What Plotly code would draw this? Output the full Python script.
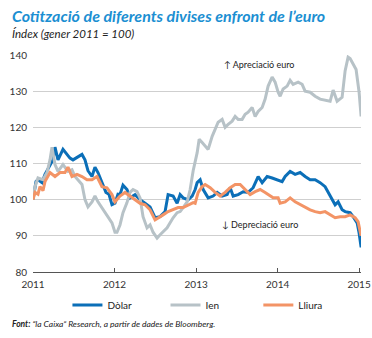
import pandas as pd
import plotly.graph_objects as go

# Time positions in decimal years, values = index (gener 2011 = 100)
dolar_t = [2011.0000, 2011.0368, 2011.0613, 2011.1104, 2011.1472, 2011.2086, 2011.2454, 2011.2699, 2011.3067,
           2011.3681, 2011.4172, 2011.4540, 2011.4908, 2011.5399, 2011.6012, 2011.6380, 2011.6748, 2011.7239,
           2011.7607, 2011.7975, 2011.8466, 2011.8957, 2011.9325, 2011.9693, 2012.0061, 2012.0429, 2012.0675,
           2012.1043, 2012.1534, 2012.1902, 2012.2515, 2012.3129, 2012.3742, 2012.4356, 2012.4969, 2012.5583,
           2012.6196, 2012.6564, 2012.7178, 2012.7669, 2012.8037, 2012.8405, 2012.9018, 2012.9509, 2012.9877,
           2013.0123, 2013.0491, 2013.0859, 2013.1472, 2013.2086, 2013.2577, 2013.3190, 2013.3804, 2013.4172,
           2013.4540, 2013.5153, 2013.5767, 2013.6380, 2013.6994, 2013.7607, 2013.8098, 2013.8712, 2013.9325,
           2013.9939, 2014.0552, 2014.0920, 2014.1534, 2014.2147, 2014.2761, 2014.3374, 2014.3988, 2014.4601,
           2014.5215, 2014.5828, 2014.6196, 2014.6687, 2014.7055, 2014.7423, 2014.7914, 2014.8282, 2014.8896,
           2014.9264, 2014.9755, 2015.0000, 2015.0245]
dolar_v = [100.0, 105.0, 105.5, 104.7, 107.0, 109.7, 111.0, 114.5, 111.0,
           113.9, 112.5, 111.5, 111.0, 111.7, 112.5, 111.0, 108.0, 106.4,
           109.0, 107.5, 104.7, 102.0, 101.5, 98.6, 99.0, 101.5, 101.4,
           104.0, 102.8, 100.5, 101.4, 100.0, 99.0, 98.0, 95.0, 95.3,
           96.7, 101.4, 101.0, 99.0, 101.4, 100.5, 100.0, 101.0, 102.8,
           104.7, 105.5, 102.8, 100.5, 101.0, 102.0, 101.0, 101.4, 103.3,
           101.0, 101.4, 102.2, 102.0, 103.3, 106.4, 104.7, 106.4, 106.0,
           105.5, 105.0, 106.4, 107.8, 107.0, 107.5, 106.4, 105.5, 105.5,
           104.7, 103.6, 102.2, 100.0, 98.6, 99.4, 97.2, 96.7, 96.4,
           95.3, 93.6, 90.8, 86.8]

ien_t = [2011.0000, 2011.0245, 2011.0613, 2011.1227, 2011.1718, 2011.2086, 2011.2331, 2011.2454, 2011.2699, 2011.3067,
         2011.3681, 2011.4294, 2011.4785, 2011.5153, 2011.5521, 2011.6012, 2011.6380, 2011.6748, 2011.7239, 2011.7607,
         2011.7975, 2011.8466, 2011.8834, 2011.9202, 2011.9693, 2012.0061, 2012.0307, 2012.0675, 2012.1043, 2012.1534,
         2012.1902, 2012.2270, 2012.2761, 2012.3129, 2012.3497, 2012.3988, 2012.4356, 2012.4724, 2012.5215, 2012.5583,
         2012.5951, 2012.6442, 2012.6810, 2012.7178, 2012.7669, 2012.8037, 2012.8405, 2012.8896, 2012.9264, 2012.9632,
         2013.0123, 2013.0368, 2013.0736, 2013.1104, 2013.1472, 2013.1963, 2013.2331, 2013.2699, 2013.3190, 2013.3558,
         2013.3926, 2013.4417, 2013.4785, 2013.5153, 2013.5644, 2013.6012, 2013.6380, 2013.6871, 2013.7239, 2013.7607,
         2013.8098, 2013.8466, 2013.8834, 2013.9325, 2013.9693, 2014.0061, 2014.0307, 2014.0675, 2014.1166, 2014.1534,
         2014.1902, 2014.2515, 2014.3006, 2014.3374, 2014.3988, 2014.4601, 2014.5215, 2014.5828, 2014.6442, 2014.6810,
         2014.7301, 2014.7914, 2014.8282, 2014.8650, 2014.8896, 2014.9264, 2014.9632, 2015.0000, 2015.0245]
ien_v = [100.0, 103.6, 106.0, 105.5, 107.5, 111.0, 114.5, 113.0, 109.7, 107.8,
         109.7, 107.8, 108.3, 106.4, 105.5, 104.2, 100.0, 98.0, 99.4, 101.0,
         99.4, 97.8, 96.4, 95.3, 93.6, 91.0, 91.0, 93.0, 96.4, 99.2,
         102.0, 102.8, 102.2, 100.5, 95.3, 92.2, 93.0, 91.0, 89.4, 90.3,
         91.0, 92.2, 93.6, 95.0, 96.4, 96.7, 97.8, 99.4, 102.8, 108.0,
         113.0, 116.7, 115.8, 114.7, 113.9, 117.5, 119.4, 121.4, 122.2, 120.0,
         120.8, 121.7, 123.0, 122.2, 122.2, 123.6, 124.2, 125.5, 123.0, 124.4,
         125.5, 127.8, 131.4, 133.9, 132.5, 129.7, 128.6, 130.6, 131.4, 133.0,
         131.9, 132.5, 131.9, 130.0, 129.7, 128.6, 127.8, 127.5, 127.2, 130.3,
         127.2, 128.3, 135.6, 139.4, 139.0, 137.5, 136.0, 129.7, 123.0]

lliura_t = [2011.0000, 2011.0245, 2011.0613, 2011.0859, 2011.1227, 2011.1472, 2011.2086, 2011.2699, 2011.3313,
            2011.3926, 2011.4294, 2011.4785, 2011.5399, 2011.6012, 2011.6626, 2011.7239, 2011.7853, 2011.8466,
            2011.9080, 2011.9693, 2012.0061, 2012.0675, 2012.1288, 2012.1902, 2012.2515, 2012.3129, 2012.3742,
            2012.4356, 2012.4969, 2012.5337, 2012.5951, 2012.6564, 2012.7178, 2012.7791, 2012.8405, 2012.9018,
            2012.9632, 2012.9877, 2013.0245, 2013.0736, 2013.1104, 2013.1718, 2013.2331, 2013.2945, 2013.3558,
            2013.4172, 2013.4785, 2013.5399, 2013.6012, 2013.6626, 2013.7239, 2013.7853, 2013.8466, 2013.8834,
            2013.9448, 2014.0061, 2014.0307, 2014.0920, 2014.1534, 2014.2147, 2014.2761, 2014.3374, 2014.3988,
            2014.4601, 2014.5215, 2014.5828, 2014.6442, 2014.7055, 2014.7669, 2014.8282, 2014.8896, 2014.9509,
            2014.9877, 2015.0245]
lliura_v = [100.0, 102.0, 101.5, 103.6, 102.5, 105.0, 107.5, 106.4, 107.5,
            107.5, 109.0, 106.4, 107.0, 106.4, 105.5, 105.5, 106.4, 103.6,
            103.3, 101.4, 99.4, 101.0, 102.0, 101.0, 100.0, 99.0, 98.6,
            97.2, 94.4, 95.0, 95.8, 96.7, 97.2, 97.8, 97.8, 98.6,
            99.2, 99.0, 102.0, 103.6, 104.2, 103.3, 102.0, 101.0, 102.0,
            103.3, 104.2, 104.2, 102.8, 101.4, 102.2, 102.8, 102.0, 101.4,
            100.5, 100.5, 99.0, 99.4, 100.5, 99.4, 98.6, 98.0, 97.2,
            96.7, 96.4, 96.7, 95.8, 95.0, 95.3, 95.3, 95.8, 95.0,
            93.9, 90.0]

year_ticks = [2011, 2012, 2013, 2014, 2015]
y_ticks = [80, 90, 100, 110, 120, 130, 140]


def to_dates(ts):
    out = []
    for t in ts:
        y = int(t)
        start = pd.Timestamp(year=y, month=1, day=1)
        end = pd.Timestamp(year=y + 1, month=1, day=1)
        out.append(start + (end - start) * (t - y))
    return out


FONT = "Lato"
fig = go.Figure()
series = [("Dòlar", dolar_t, dolar_v, "#0b6fb8", "legend", 0.105),
          ("Ien", ien_t, ien_v, "#b7c2c7", "legend2", 0.404),
          ("Lliura", lliura_t, lliura_v, "#f39466", "legend3", 0.687)]
legend_layout = {}
for name, t, v, c, lg, lx in series:
    fig.add_trace(go.Scatter(x=to_dates(t), y=v, name=name, mode="lines",
                             line=dict(color=c, width=3), legend=lg))
    legend_layout[lg] = dict(orientation="h", x=lx, y=-0.152, xanchor="left", yanchor="middle",
                             itemwidth=30, font=dict(size=10, color="#222222"),
                             bgcolor="rgba(0,0,0,0)")

fig.update_layout(
    width=372, height=338,
    margin=dict(l=33, r=11, t=55, b=66, autoexpand=False),
    paper_bgcolor="white", plot_bgcolor="white",
    font=dict(family=FONT, size=10, color="#333333"),
    showlegend=True,
    xaxis=dict(type="date", automargin=False,
               range=[pd.Timestamp("2011-01-01"), pd.Timestamp("2015-01-09 12:00")],
               tickvals=[pd.Timestamp(year=y, month=1, day=1) for y in year_ticks],
               ticktext=[str(y) for y in year_ticks],
               ticks="inside", ticklen=4, tickcolor="#555555",
               showline=True, linecolor="#555555", linewidth=1,
               showgrid=False, zeroline=False, ticklabelstandoff=3,
               tickfont=dict(size=10, color="#333333")),
    yaxis=dict(range=[80, 140], tickvals=y_ticks, ticktext=[str(v) for v in y_ticks],
               automargin=False,
               showgrid=True, gridcolor="#cfcfcf", gridwidth=1,
               zeroline=False, showline=False, ticks="", ticklabelstandoff=5,
               tickfont=dict(size=10, color="#333333")),
    **legend_layout,
)

anns = [
    dict(text="<b><i>Cotització de diferents divises enfront de l’euro</i></b>",
         x=-0.0701, y=1.18, font=dict(size=16, color="#1b8fd2")),
    dict(text="<i>Índex (gener 2011 = 100)</i>",
         x=-0.0701, y=1.101, font=dict(size=11.5, color="#222222")),
    dict(text="<b><i>Font:</i></b><i> “la Caixa” Research, a partir de dades de Bloomberg.</i>",
         x=-0.0701, y=-0.2396, font=dict(size=8.5, color="#222222")),
    dict(text="↑ Apreciació euro", x=0.576, y=0.9585, font=dict(size=9, color="#222222")),
    dict(text="↓ Depreciació euro", x=0.570, y=0.221, font=dict(size=9, color="#222222")),
]
for a in anns:
    fig.add_annotation(xref="paper", yref="paper", xanchor="left", yanchor="middle",
                       showarrow=False, **a)

fig.write_html("out.html")
